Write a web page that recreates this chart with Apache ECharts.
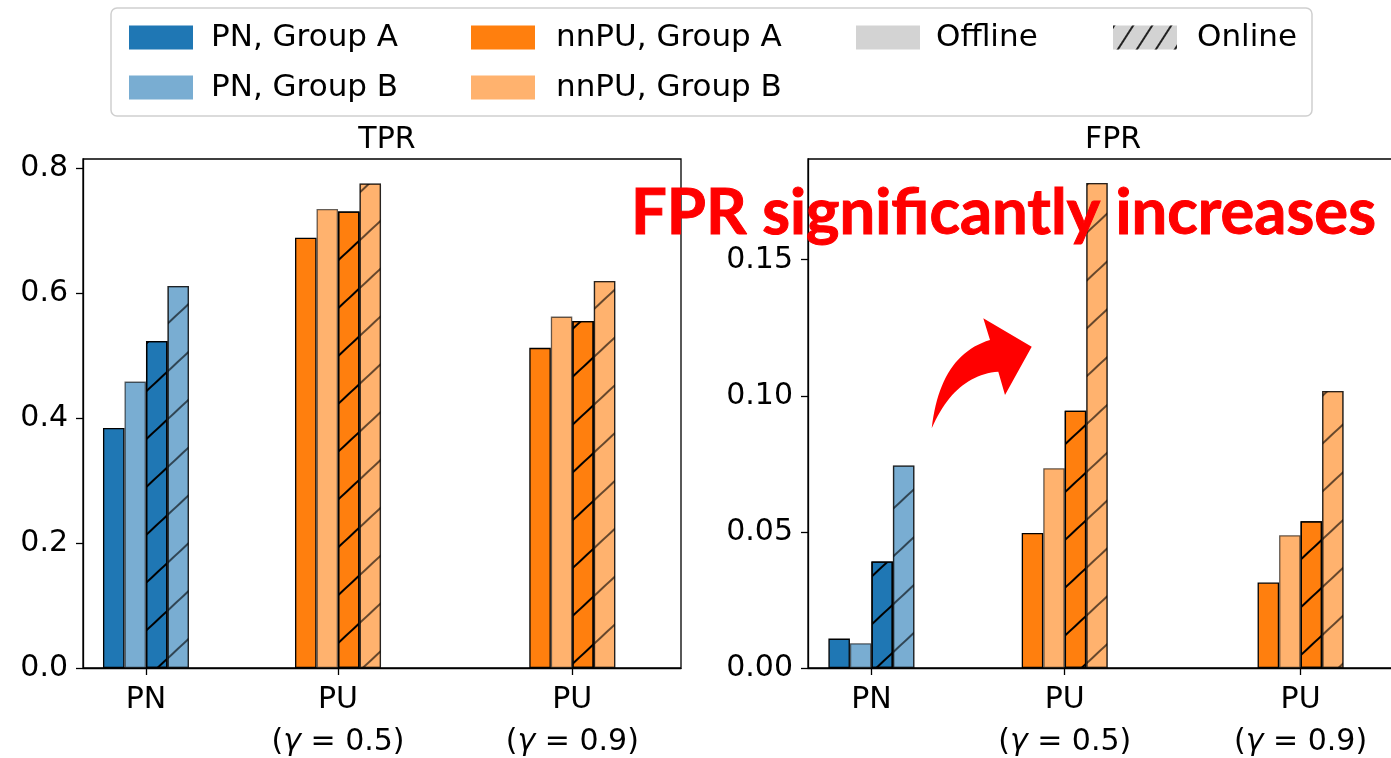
<!DOCTYPE html>
<html><head><meta charset="utf-8">
<script src="https://cdn.jsdelivr.net/npm/echarts@6/dist/echarts.min.js"></script>
<style>html,body{margin:0;padding:0;background:#fff}#c{width:1391px;height:758px}</style>
</head><body><div id="c"></div>
<script>
// ---- data ----
const categories = ['PN', 'PU\n(γ = 0.5)', 'PU\n(γ = 0.9)'];
const catPositions = [0, 1, 2.22];
const catMethod = ['PN', 'nnPU', 'nnPU'];

const tprAOffline = [0.384, 0.688, 0.512];
const tprBOffline = [0.458, 0.734, 0.562];
const tprAOnline  = [0.523, 0.730, 0.555];
const tprBOnline  = [0.611, 0.775, 0.619];

const fprAOffline = [0.0108, 0.0496, 0.0314];
const fprBOffline = [0.0091, 0.0734, 0.0488];
const fprAOnline  = [0.0391, 0.0945, 0.0539];
const fprBOnline  = [0.0744, 0.1782, 0.1018];

const tprTicks = [0, 0.2, 0.4, 0.6, 0.8];
const fprTicks = [0, 0.05, 0.10, 0.15];

const legendNames = ['PN, Group A', 'PN, Group B', 'nnPU, Group A', 'nnPU, Group B', 'Offline', 'Online'];
const titles = ['TPR', 'FPR'];
const annotation = 'FPR significantly increases';

// ---- styling ----
const FONT = 'DejaVu Sans';
const COL = { PN: { A: '#1f77b4', B: '#79add2' }, nnPU: { A: '#ff7f0e', B: '#ffb26e' } };
const EDGE = { A: '#000', B: 'rgba(0,0,0,0.6)' };
function hatch(group) {
  return { symbol: 'rect', symbolSize: 1, dashArrayX: [1, 0], dashArrayY: [2, 33],
           rotation: -0.75, color: group === 'A' ? '#000' : 'rgba(0,0,0,0.6)' };
}

function barSeries(name, vals, group, online, gi) {
  return {
    type: 'bar', name: name, xAxisIndex: gi, yAxisIndex: gi,
    barWidth: 21.5, barGap: '0%', silent: true,
    data: vals.map(function (v, i) {
      const st = { color: COL[catMethod[i]][group], borderColor: EDGE[group], borderWidth: 1.3 };
      if (online) st.decal = hatch(group);
      return { value: [catPositions[i], v], itemStyle: st };
    })
  };
}

const xMin = -0.328, xMax = 2.786;

function xAxis(gi) {
  return {
    type: 'value', gridIndex: gi, min: xMin, max: xMax,
    splitLine: { show: false },
    axisLine: { show: true, onZero: false, lineStyle: { color: '#000', width: 1.3 } },
    axisTick: { show: true, length: 7, lineStyle: { color: '#000', width: 1.3 }, customValues: catPositions },
    axisLabel: {
      customValues: catPositions, margin: 11, color: '#000', fontFamily: FONT, fontSize: 30, lineHeight: 42,
      formatter: function (v) {
        let idx = catPositions.findIndex(function (p) { return Math.abs(p - v) < 1e-6; });
        if (idx < 0) return '';
        return categories[idx].replace('γ', '{g|γ}');
      },
      rich: { g: { fontStyle: 'italic', fontFamily: FONT, fontSize: 30, lineHeight: 42, color: '#000' } }
    }
  };
}
function yAxis(gi, max, ticks, dec) {
  return {
    type: 'value', gridIndex: gi, min: 0, max: max,
    splitLine: { show: false },
    axisLine: { show: true, onZero: false, lineStyle: { color: '#000', width: 1.3 } },
    axisTick: { show: true, length: 7, lineStyle: { color: '#000', width: 1.3 }, customValues: ticks },
    axisLabel: { customValues: ticks, margin: 15, color: '#000', fontFamily: FONT, fontSize: 30,
                 formatter: function (v) { return v.toFixed(dec); } }
  };
}

// legend proxy series (hidden grid)
const legendColors = ['#1f77b4', '#79add2', '#ff7f0e', '#ffb26e', '#d3d3d3', '#d3d3d3'];
const legendSeries = legendNames.map(function (n, i) {
  const st = { color: legendColors[i], borderWidth: 0 };
  if (n === 'Online') st.decal = { symbol: 'rect', symbolSize: 1, dashArrayX: [1, 0], dashArrayY: [2, 14], rotation: -1.0, color: '#222' };
  return { type: 'bar', name: n, xAxisIndex: 2, yAxisIndex: 2, data: [], itemStyle: st };
});

function legend(names, left, top, pad) {
  return {
    data: names, left: left, top: top, orient: 'vertical', icon: 'rect',
    itemWidth: 64, itemHeight: 24, itemGap: 19, selectedMode: false, z: 5,
    textStyle: { fontFamily: FONT, fontSize: 31, lineHeight: 31, color: '#000', padding: [0, 0, 0, pad] }
  };
}

// curved arrow outline (decoration) sampled from quadratic curves
function quad(p0, c, p1, n) {
  const pts = [];
  for (let k = 0; k <= n; k++) {
    const t = k / n, u = 1 - t;
    pts.push([u * u * p0[0] + 2 * u * t * c[0] + t * t * p1[0], u * u * p0[1] + 2 * u * t * c[1] + t * t * p1[1]]);
  }
  return pts;
}
const arrowPts = quad([931.7, 428.3], [940, 355], [990, 340], 24)
  .concat([[983.3, 318.3], [1031.7, 346.7], [1005, 395]])
  .concat(quad([998.3, 371.7], [955, 375], [931.7, 428.3], 24));

// measure annotation for horizontal fitting
const annFont = 'bold 64px Lato';
const mctx = document.createElement('canvas').getContext('2d');
mctx.font = annFont;
const annW = mctx.measureText(annotation).width;
const annScale = 745 / annW;

const gridCommon = { show: true, borderColor: '#000', borderWidth: 1.3, backgroundColor: 'transparent',
                     containLabel: false, outerBoundsMode: 'none' };

const chart = echarts.init(document.getElementById('c'), null, { renderer: 'canvas' });
chart.setOption({
  animation: false,
  backgroundColor: '#fff',
  title: [
    { text: titles[0], left: 382, top: 120, textAlign: 'center', textStyle: { fontFamily: FONT, fontSize: 30, fontWeight: 'normal', color: '#000' } },
    { text: titles[1], left: 1108, top: 120, textAlign: 'center', textStyle: { fontFamily: FONT, fontSize: 30, fontWeight: 'normal', color: '#000' } }
  ],
  legend: [
    legend([legendNames[0], legendNames[1]], 124, 17, 13),
    legend([legendNames[2], legendNames[3]], 466, 17, 16),
    legend([legendNames[4]], 851, 17, 11),
    legend([legendNames[5]], 1108, 17, 15)
  ],
  grid: [
    Object.assign({ left: 83, top: 159, width: 598, height: 509 }, gridCommon),
    Object.assign({ left: 808, top: 159, width: 602, height: 509 }, gridCommon),
    { left: 0, top: 0, width: 1, height: 1, show: false, outerBoundsMode: 'none' }
  ],
  xAxis: [xAxis(0), xAxis(1), { type: 'value', gridIndex: 2, show: false }],
  yAxis: [yAxis(0, 0.814, tprTicks, 1), yAxis(1, 0.187, fprTicks, 2), { type: 'value', gridIndex: 2, show: false }],
  series: [
    barSeries('TPR A offline', tprAOffline, 'A', false, 0),
    barSeries('TPR B offline', tprBOffline, 'B', false, 0),
    barSeries('TPR A online', tprAOnline, 'A', true, 0),
    barSeries('TPR B online', tprBOnline, 'B', true, 0),
    barSeries('FPR A offline', fprAOffline, 'A', false, 1),
    barSeries('FPR B offline', fprBOffline, 'B', false, 1),
    barSeries('FPR A online', fprAOnline, 'A', true, 1),
    barSeries('FPR B online', fprBOnline, 'B', true, 1)
  ].concat(legendSeries),
  graphic: [
    { type: 'rect', z: 1, shape: { x: 111, y: 8, width: 1201, height: 108, r: 6 },
      style: { fill: '#fff', stroke: '#cfcfcf', lineWidth: 1.5 } },
    { type: 'polygon', z: 100, shape: { points: arrowPts }, style: { fill: '#ff0000' } },
    { type: 'text', z: 101, x: 631, y: 213, scaleX: annScale,
      style: { text: annotation, font: annFont, fill: '#ff0000', stroke: '#ff0000', lineWidth: 1, align: 'left', verticalAlign: 'middle' } }
  ]
});
</script></body></html>
